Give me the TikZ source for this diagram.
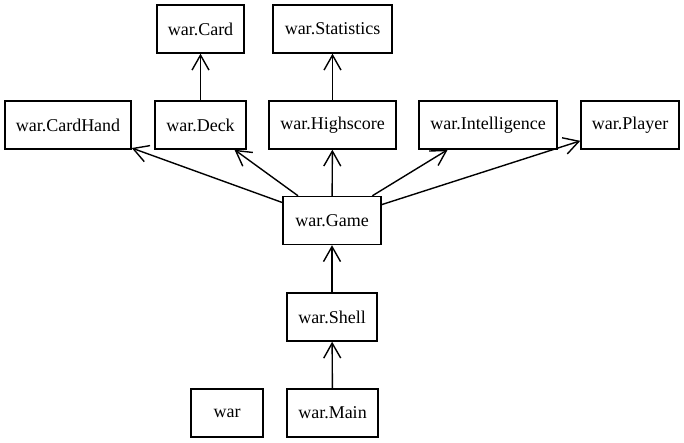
\documentclass[tikz,border=0pt]{standalone}
\usepackage{fontspec}
\setmainfont{Liberation Serif}
\usetikzlibrary{arrows.meta}
\begin{document}
\begin{tikzpicture}[x=1pt,y=-1pt,
  mod/.style={draw, line width=1.4pt, minimum height=48pt, inner sep=0pt, font=\fontsize{18}{20}\selectfont},
  dep/.style={line width=1.4pt, -{Straight Barb[length=15pt,width=17pt,line width=1.4pt]}}]
\useasboundingbox (0,0) rectangle (684,443);
\node[mod, minimum width=87pt]  (card)  at (200.5,29) {war.Card};
\node[mod, minimum width=119pt] (stats) at (332.5,29) {war.Statistics};
\node[mod, minimum width=126pt] (hand)  at (68,125) {war.CardHand};
\node[mod, minimum width=91pt]  (deck)  at (200.5,125) {war.Deck};
\node[mod, minimum width=127pt] (high)  at (332.5,125) {war.Highscore};
\node[mod, minimum width=138pt] (intel) at (488,125) {war.Intelligence};
\node[mod, minimum width=98pt]  (player) at (630,125) {war.Player};
\node[mod, minimum width=98pt]  (game)  at (332,220.5) {war.Game};
\node[mod, minimum width=90pt]  (shell) at (332,317) {war.Shell};
\node[mod, minimum width=72pt]  (war)   at (227,413) {war};
\node[mod, minimum width=91pt]  (main)  at (332.5,413) {war.Main};
\draw[dep] (deck) -- (card);
\draw[dep] (high) -- (stats);
\draw[dep] (game) -- (hand);
\draw[dep] (game) -- (deck);
\draw[dep] (game) -- (high);
\draw[dep] (game) -- (intel);
\draw[dep] (game) -- (player);
\draw[dep] (shell) -- (game);
\draw[dep] (main) -- (shell);
\end{tikzpicture}
\end{document}
